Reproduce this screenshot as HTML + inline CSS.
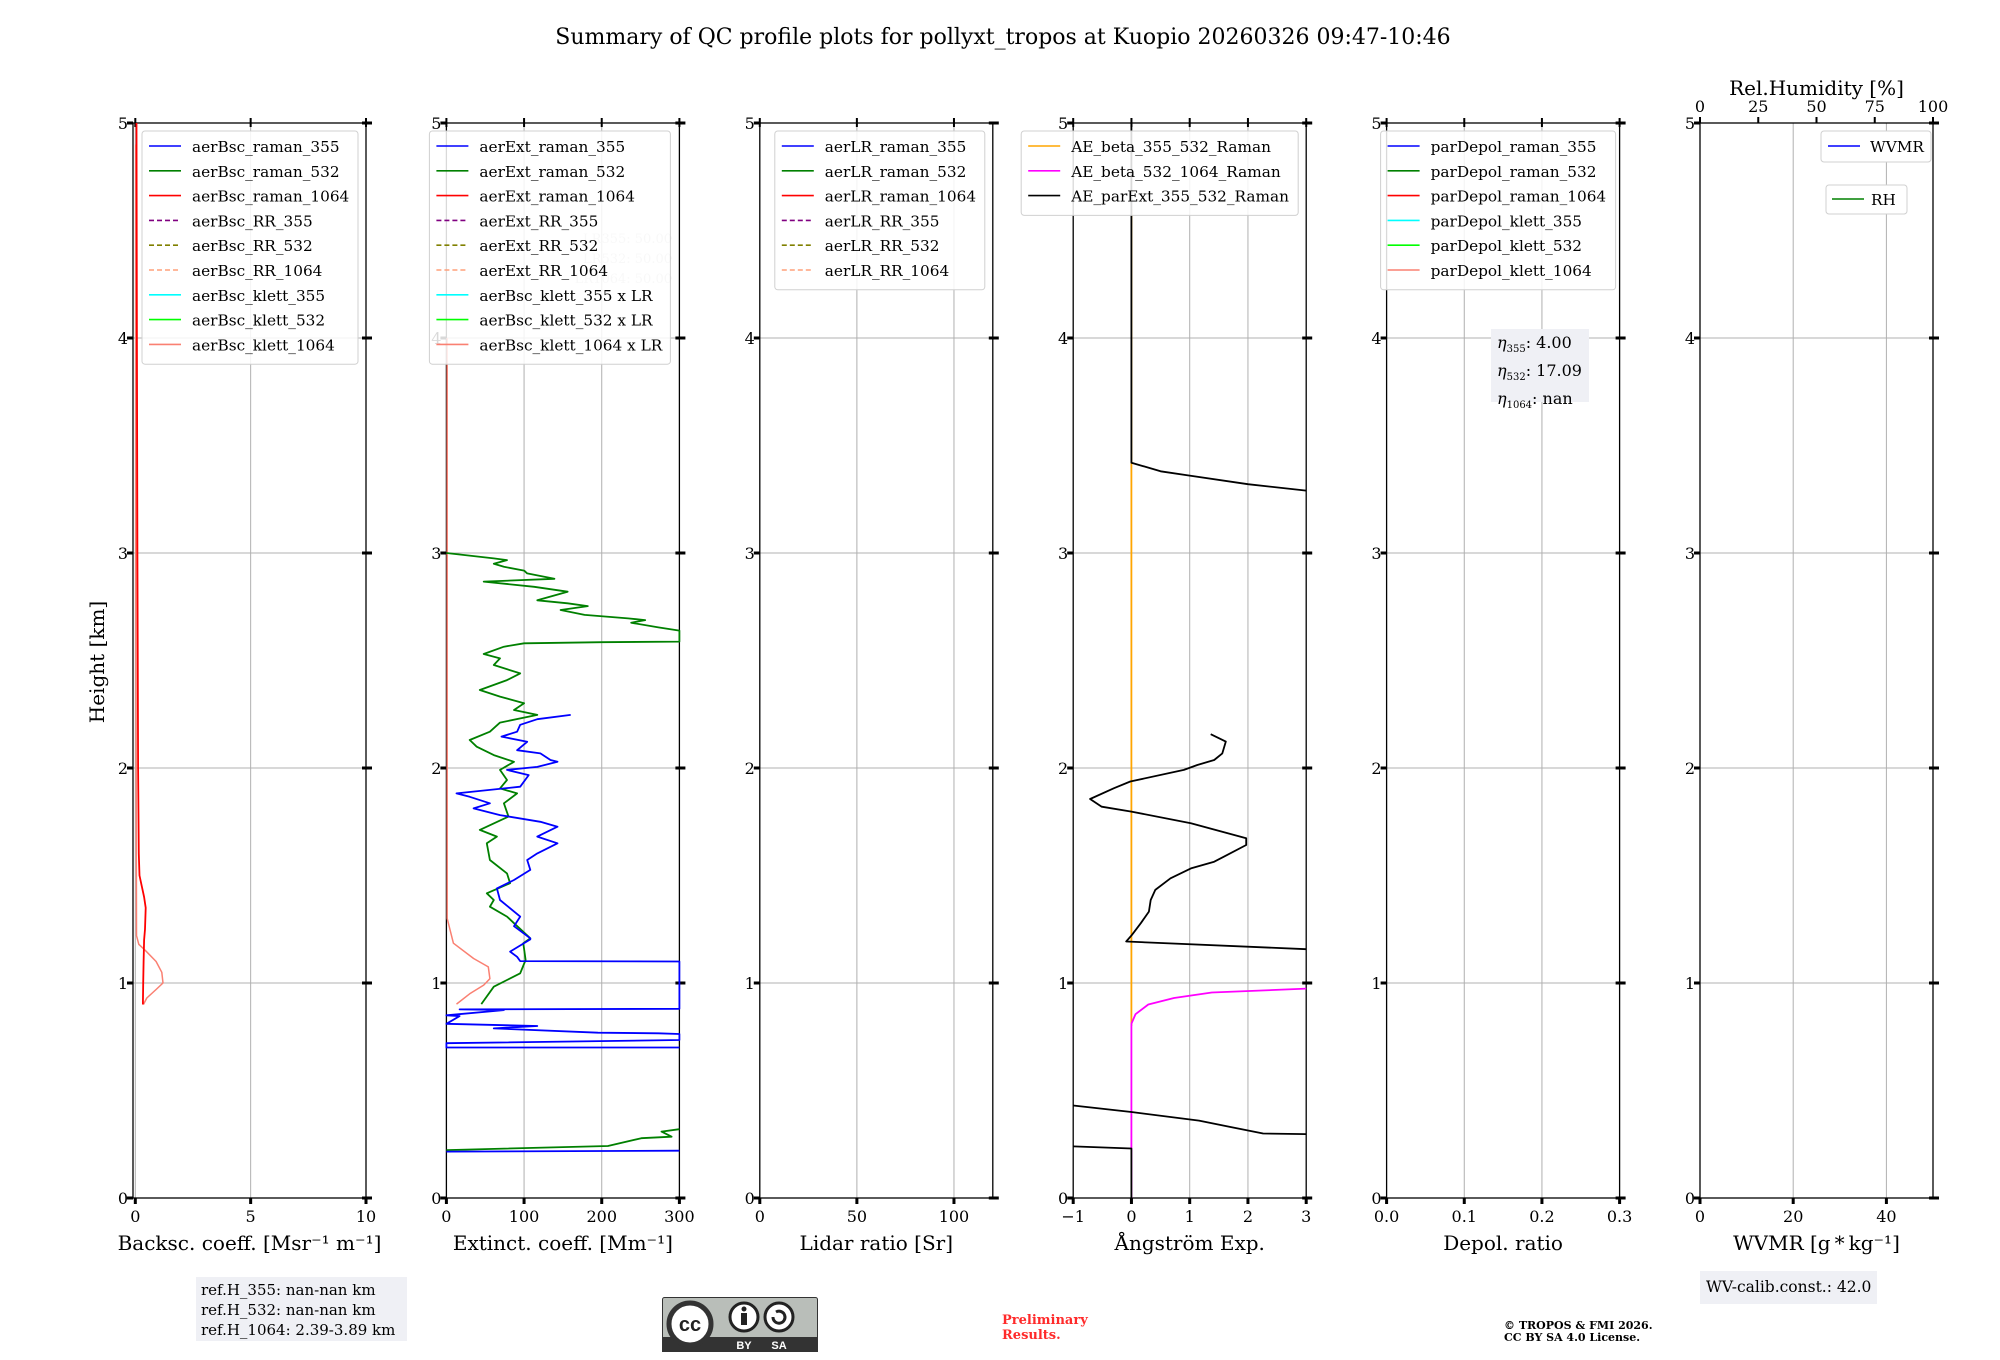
<!DOCTYPE html>
<html><head><meta charset="utf-8"><style>
body{margin:0;background:#fff}
svg{display:block;font-family:"DejaVu Serif","Liberation Serif",serif}
</style></head><body>
<svg id="fig" width="2000" height="1360" viewBox="0 0 2000 1360" xmlns="http://www.w3.org/2000/svg">
<rect width="2000" height="1360" fill="#fff"/>
<text x="1003" y="44" font-size="22" text-anchor="middle">Summary of QC profile plots for pollyxt_tropos at Kuopio 20260326 09:47-10:46</text>
<text transform="translate(104,662) rotate(-90)" font-size="20" text-anchor="middle">Height [km]</text>
<g id="panels"></g>
</svg>
<script>
// ---- data (heights in km) ----
const bscRed1064H=[5,4,3,2,1.6,1.5,1.45,1.4,1.35,1.25,1.2,1.1,1.0,0.9];
const bscRed1064V=[0.05,0.07,0.09,0.12,0.15,0.18,0.28,0.38,0.45,0.42,0.38,0.36,0.34,0.33];
const bscKlett1064H=[4.9,3,1.22,1.18,1.15,1.1,1.05,1.0,0.97,0.93,0.9];
const bscKlett1064V=[0.02,0.02,0.05,0.15,0.45,0.9,1.15,1.2,0.9,0.5,0.35];

const ext532H=[3.00,2.975,2.967,2.95,2.936,2.918,2.905,2.88,2.867,2.843,2.82,2.78,2.766,2.753,2.735,2.712,2.696,2.688,2.676,2.654,2.639,2.588,2.585,2.580,2.564,2.53,2.51,2.479,2.44,2.409,2.363,2.332,2.301,2.27,2.247,2.211,2.169,2.13,2.099,2.06,2.029,1.991,1.944,1.905,1.882,1.836,1.774,1.712,1.681,1.650,1.572,1.510,1.464,1.417,1.386,1.355,1.309,1.278,1.208,1.185,1.107,1.045,1.014,0.983,0.902];
const ext532V=[0,61,78,61,74,100,104,139,48,113,156,117,156,182,147,178,234,256,238,273,300,300,200,100,74,48,69,61,95,78,43,69,100,87,117,69,56,30,39,61,87,69,78,69,91,74,80,43,65,52,56,78,82,52,61,56,78,87,108,99,102,95,78,61,45];
const ext532LowH=[0.223,0.242,0.278,0.285,0.309,0.32];
const ext532LowV=[0,208,251,290,277,300];
const ext355H=[2.247,2.227,2.201,2.169,2.146,2.122,2.083,2.068,2.037,2.029,2.005,1.991,1.967,1.913,1.882,1.866,1.836,1.812,1.781,1.750,1.727,1.681,1.650,1.603,1.572,1.526,1.479,1.440,1.386,1.309,1.264,1.208,1.203,1.146,1.122,1.102,1.100,0.88,0.877,0.874,0.85,0.846,0.81,0.80,0.789,0.769,0.766,0.763,0.735,0.72,0.70,0.70];
const ext355V=[160,117,95,91,71,104,91,121,134,143,117,78,106,95,13,30,56,35,69,121,143,117,143,117,104,108,87,65,69,95,87,108,108,82,91,95,300,300,17,74,0,17,0,117,61,195,273,300,300,0,0,300];
const ext355LowH=[0.216,0.22];
const ext355LowV=[0,300];
const extKlettH=[4.0,1.3,1.185,1.114,1.075,1.02,0.99,0.95,0.902];
const extKlettV=[1,1,9,35,54,56,48,30,13];

const aeBlackTopH=[5,3.42,3.38,3.36,3.32,3.29];
const aeBlackTopV=[0,0,0.5,1,2,3];
const aeBlackMidH=[2.157,2.123,2.068,2.037,2.014,1.991,1.937,1.906,1.856,1.82,1.797,1.743,1.673,1.642,1.588,1.564,1.533,1.487,1.433,1.386,1.332,1.278,1.224,1.193,1.157];
const aeBlackMidV=[1.36,1.62,1.56,1.42,1.13,0.90,-0.02,-0.30,-0.71,-0.51,0,1.02,1.97,1.97,1.59,1.42,1.02,0.67,0.41,0.33,0.30,0.16,0.01,-0.09,3.0];
const aeBlackLowH=[0.43,0.40,0.36,0.33,0.30,0.297];
const aeBlackLowV=[-1,0,1.16,1.7,2.26,3];
const aeBlackBotH=[0.24,0.23,0];
const aeBlackBotV=[-1,0,0];
const aeOrangeH=[4.6,0.8];
const aeOrangeV=[0,0];
const aeMagH=[0,0.81,0.855,0.90,0.93,0.956,0.968,0.974];
const aeMagV=[0,0,0.07,0.29,0.73,1.38,2.48,3];

// ---- layout ----
const svg=document.getElementById('panels');
const NS='http://www.w3.org/2000/svg';
const TOP=123,BOT=1198;
function el(tag,attrs,parent){const e=document.createElementNS(NS,tag);for(const k in attrs)e.setAttribute(k,attrs[k]);(parent||svg).appendChild(e);return e;}
function yScale(h){return BOT-(BOT-TOP)*h/5;}

const panels=[
 {key:'backscatter',xmin:-0.1,xmax:10,ticks:[0,5,10],labels:['0','5','10'],xlabel:'Backsc. coeff. [Msr\u207B\u00B9 m\u207B\u00B9]',
  legend:[['aerBsc_raman_355','#0000ff',0],['aerBsc_raman_532','#008000',0],['aerBsc_raman_1064','#ff0000',0],['aerBsc_RR_355','#800080',1],['aerBsc_RR_532','#808000',1],['aerBsc_RR_1064','#ffa07a',1],['aerBsc_klett_355','#00ffff',0],['aerBsc_klett_532','#00ff00',0],['aerBsc_klett_1064','#fa8072',0]],lw:216},
 {key:'extinction',xmin:0,xmax:300,ticks:[0,100,200,300],labels:['0','100','200','300'],xlabel:'Extinct. coeff. [Mm\u207B\u00B9]',
  legend:[['aerExt_raman_355','#0000ff',0],['aerExt_raman_532','#008000',0],['aerExt_raman_1064','#ff0000',0],['aerExt_RR_355','#800080',1],['aerExt_RR_532','#808000',1],['aerExt_RR_1064','#ffa07a',1],['aerBsc_klett_355 x LR','#00ffff',0],['aerBsc_klett_532 x LR','#00ff00',0],['aerBsc_klett_1064 x LR','#fa8072',0]],lw:241,lx:-26},
 {key:'lidar-ratio',xmin:0,xmax:120,ticks:[0,50,100],labels:['0','50','100'],xlabel:'Lidar ratio [Sr]',
  legend:[['aerLR_raman_355','#0000ff',0],['aerLR_raman_532','#008000',0],['aerLR_raman_1064','#ff0000',0],['aerLR_RR_355','#800080',1],['aerLR_RR_532','#808000',1],['aerLR_RR_1064','#ffa07a',1]],lw:210,lx:6},
 {key:'angstrom',xmin:-1,xmax:3,ticks:[-1,0,1,2,3],labels:['\u22121','0','1','2','3'],xlabel:'\u00C5ngstr\u00F6m Exp.',
  legend:[['AE_beta_355_532_Raman','#ffa500',0],['AE_beta_532_1064_Raman','#ff00ff',0],['AE_parExt_355_532_Raman','#000000',0]],lw:277,lx:-61},
 {key:'depol',xmin:0,xmax:0.3,ticks:[0,0.1,0.2,0.3],labels:['0.0','0.1','0.2','0.3'],xlabel:'Depol. ratio',
  legend:[['parDepol_raman_355','#0000ff',0],['parDepol_raman_532','#008000',0],['parDepol_raman_1064','#ff0000',0],['parDepol_klett_355','#00ffff',0],['parDepol_klett_532','#00ff00',0],['parDepol_klett_1064','#fa8072',0]],lw:235,lx:-15},
 {key:'wvmr',xmin:0,xmax:50,ticks:[0,20,40],labels:['0','20','40'],xlabel:'WVMR [g\u2009*\u2009kg\u207B\u00B9]',legend:[],lw:0}
];
const axes=[];
panels.forEach((p,i)=>{
  const L=133+i*313.4,R=L+233;
  const xs=v=>L+(v-p.xmin)/(p.xmax-p.xmin)*(R-L);
  axes.push(xs);
  const g=el('g',{});
  
  
  p.ticks.forEach(t=>{if(t!==p.xmin&&Math.abs(xs(t)-R)>1)el('line',{x1:xs(t),x2:xs(t),y1:TOP,y2:BOT,stroke:'#b0b0b0','stroke-width':1},g);});
  for(let h=1;h<5;h++)el('line',{x1:L,x2:R,y1:yScale(h),y2:yScale(h),stroke:'#b0b0b0','stroke-width':1},g);
  el('rect',{x:L,y:TOP,width:R-L,height:BOT-TOP,fill:'none',stroke:'#000','stroke-width':1.3},g);
  for(let h=0;h<=5;h++){
    const y=yScale(h);
    el('line',{x1:L-6,x2:L,y1:y,y2:y,stroke:'#000','stroke-width':3},g);
    el('line',{x1:R-4,x2:R+6,y1:y,y2:y,stroke:'#000','stroke-width':3},g);
    const t=el('text',{x:L-5,y:y+6,'font-size':16,'text-anchor':'end'},g);t.textContent=h;
    
    
  }
  p.ticks.forEach((tv,j)=>{
    const x=xs(tv);
    el('line',{x1:x,x2:x,y1:BOT,y2:BOT+6,stroke:'#000','stroke-width':3},g);
    if(i<5)el('line',{x1:x,x2:x,y1:TOP-5,y2:TOP+4,stroke:'#000','stroke-width':2},g);
    const t=el('text',{x:x,y:BOT+24,'font-size':16,'text-anchor':'middle'},g);t.textContent=p.labels[j];
    
    
  });
  const xl=el('text',{x:(L+R)/2,y:BOT+52,'font-size':20,'text-anchor':'middle'},g);xl.textContent=p.xlabel;
  
  
  p.L=L;p.R=R;p.g=g;
});

function line(pi,H,V,color,w,name){
  const xs=axes[pi];
  const d=H.map((h,k)=>(k?'L':'M')+xs(V[k]).toFixed(1)+','+yScale(h).toFixed(1)).join('');
  const p=el('path',{d:d,fill:'none',stroke:color,'stroke-width':w,'stroke-linejoin':'round'},panels[pi].g);
  
  
}
line(0,bscKlett1064H,bscKlett1064V,'#fa8072',1.5,'aerBsc-klett-1064-line');
line(0,bscRed1064H,bscRed1064V,'#ff0000',1.8,'aerBsc-raman-1064-line');
line(1,extKlettH,extKlettV,'#fa8072',1.5,'aerBsc-klett-1064-xLR-line');
line(1,ext532H,ext532V,'#008000',1.8,'aerExt-raman-532-line');
line(1,ext532LowH,ext532LowV,'#008000',1.8,'aerExt-raman-532-low-line');
line(1,ext355H,ext355V,'#0000ff',1.8,'aerExt-raman-355-line');
line(1,ext355LowH,ext355LowV,'#0000ff',1.8,'aerExt-raman-355-low-line');
line(3,aeOrangeH,aeOrangeV,'#ffa500',1.8,'ae-beta-355-532-line');
line(3,aeMagH,aeMagV,'#ff00ff',1.8,'ae-beta-532-1064-line');
line(3,aeBlackTopH,aeBlackTopV,'#000',1.8,'ae-parext-top-line');
line(3,aeBlackMidH,aeBlackMidV,'#000',1.8,'ae-parext-mid-line');
line(3,aeBlackLowH,aeBlackLowV,'#000',1.8,'ae-parext-low-line');
line(3,aeBlackBotH,aeBlackBotV,'#000',1.8,'ae-parext-bottom-line');

[['LR355: 50.00',243],['LR532: 50.00',263],['LR1064: 50.00',283]].forEach(a=>{
  const t=el('text',{x:672,y:a[1],'font-size':13,'text-anchor':'end',fill:'#cfcfcf'},panels[1].g);t.textContent=a[0];
  
  
});

panels.forEach((p,i)=>{
  if(!p.legend.length)return;
  const x0=p.L+9+(p.lx||0),y0=131,rows=p.legend.length;
  const lg=el('g',{},p.g);
  
  
  el('rect',{x:x0,y:y0,width:p.lw,height:rows*24.8+10,rx:3,fill:'#fff','fill-opacity':0.85,stroke:'#d0d0d0'},lg);
  p.legend.forEach((e,k)=>{
    const y=y0+15+k*24.8;
    el('line',{x1:x0+7,x2:x0+39,y1:y,y2:y,stroke:e[1],'stroke-width':1.6,'stroke-dasharray':e[2]?'5,3':'none'},lg);
    const t=el('text',{x:x0+50,y:y+6,'font-size':15.3},lg);t.textContent=e[0];
    
    
  });
});
(function(){
  const p=panels[5],g=p.g,L=p.L,R=p.R;
  const b1=el('g',{},g);
  
  
  el('rect',{x:1821,y:131,width:110,height:31,rx:3,fill:'#fff',stroke:'#d0d0d0'},b1);
  el('line',{x1:1828,x2:1860,y1:146,y2:146,stroke:'#0000ff','stroke-width':1.6},b1);
  const t1=el('text',{x:1870,y:152,'font-size':15.3},b1);t1.textContent='WVMR';
  const b2=el('g',{},g);
  
  
  el('rect',{x:1826,y:185,width:81,height:29,rx:3,fill:'#fff',stroke:'#d0d0d0'},b2);
  el('line',{x1:1832,x2:1864,y1:199,y2:199,stroke:'#008000','stroke-width':1.6},b2);
  const t2=el('text',{x:1871,y:205,'font-size':15.3},b2);t2.textContent='RH';
  [0,25,50,75,100].forEach(v=>{
    const x=L+v/100*(R-L);
    el('line',{x1:x,x2:x,y1:TOP-6,y2:TOP,stroke:'#000','stroke-width':2},g);
    const t=el('text',{x:x,y:TOP-11,'font-size':16,'text-anchor':'middle'},g);t.textContent=v;
    
    
  });
  const tt=el('text',{x:(L+R)/2,y:TOP-28,'font-size':20,'text-anchor':'middle'},g);tt.textContent='Rel.Humidity [%]';
  
  
})();
</script>
<div style="position:absolute;left:0;top:0;width:2000px;height:1360px;pointer-events:none;font-family:'DejaVu Serif','Liberation Serif',serif">
  <div style="position:absolute;left:1491px;top:329px;width:98px;height:73px;background:#eff0f5;font-size:16px;line-height:21px;padding:3px 0 0 6px;box-sizing:border-box;white-space:nowrap">
    <div><i>η</i><sub style="font-size:10px">355</sub>: 4.00</div><div><i>η</i><sub style="font-size:10px">532</sub>: 17.09</div><div><i>η</i><sub style="font-size:10px">1064</sub>: nan</div>
  </div>
  <div style="position:absolute;left:196px;top:1277px;width:211px;height:64px;background:#eff0f5;font-size:15px;line-height:20px;padding:3px 0 0 5px;box-sizing:border-box;white-space:nowrap">
    <div>ref.H_355: nan-nan km</div><div>ref.H_532: nan-nan km</div><div>ref.H_1064: 2.39-3.89 km</div>
  </div>
  <div style="position:absolute;left:1700px;top:1271px;width:177px;height:33px;background:#eff0f5;font-size:15.5px;line-height:33px;padding-left:6px;box-sizing:border-box;white-space:nowrap">WV-calib.const.: 42.0</div>
  <div style="position:absolute;left:1002px;top:1313px;color:#ff2a2a;font-weight:bold;font-size:13px;line-height:15px">Preliminary<br>Results.</div>
  <div style="position:absolute;left:1504px;top:1320px;font-weight:bold;font-size:11px;line-height:12px">© TROPOS &amp; FMI 2026.<br>CC BY SA 4.0 License.</div>
  <svg style="position:absolute;left:662px;top:1297px" width="156" height="55" viewBox="0 0 156 55">
    <rect x="0.5" y="0.5" width="155" height="54" rx="2" fill="#b9beb9" stroke="#333"/>
    <rect x="0" y="40" width="156" height="15" fill="#333"/>
    <circle cx="28" cy="27" r="21" fill="#fff" stroke="#333" stroke-width="5"/>
    <text x="28" y="34" font-family="Liberation Sans,sans-serif" font-weight="bold" font-size="20" text-anchor="middle" fill="#222">cc</text>
    <circle cx="82" cy="20" r="14" fill="#fff" stroke="#222" stroke-width="3"/>
    <circle cx="82" cy="12" r="2.5" fill="#222"/><rect x="79" y="16" width="6" height="12" fill="#222"/>
    <circle cx="117" cy="20" r="14" fill="#fff" stroke="#222" stroke-width="3"/>
    <path d="M111 20 a6 6 0 1 0 3 -5" fill="none" stroke="#222" stroke-width="3"/>
    <text x="82" y="52" font-family="Liberation Sans,sans-serif" font-weight="bold" font-size="11" text-anchor="middle" fill="#fff">BY</text>
    <text x="117" y="52" font-family="Liberation Sans,sans-serif" font-weight="bold" font-size="11" text-anchor="middle" fill="#fff">SA</text>
  </svg>
</div>
</body></html>
